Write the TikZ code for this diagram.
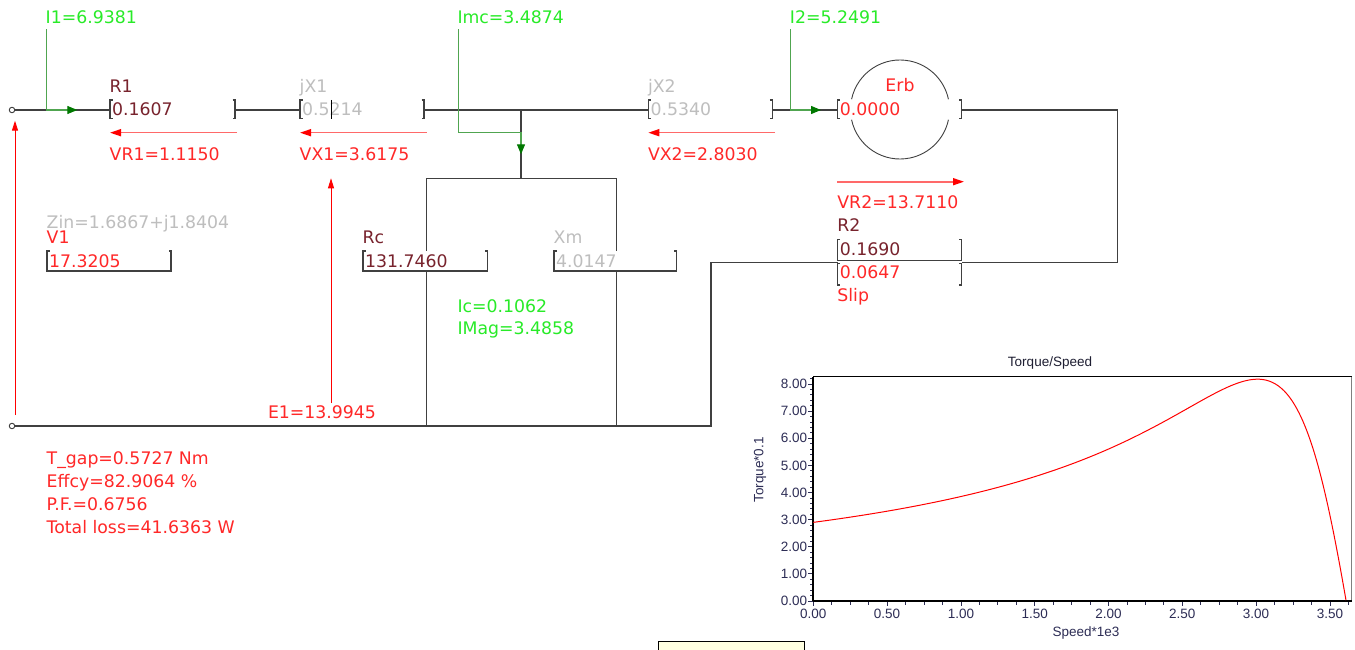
\documentclass[tikz,border=0pt]{standalone}
\usepackage{fontspec}
\setmainfont{DejaVu Sans}
\newfontfamily\chartfont{Liberation Sans}
\usepackage{xcolor}
\definecolor{wirec}{RGB}{64,64,64}
\definecolor{grn}{RGB}{40,235,40}
\definecolor{gline}{RGB}{80,165,80}
\definecolor{garr}{RGB}{0,120,0}
\definecolor{rd}{RGB}{255,40,40}
\definecolor{vline}{RGB}{255,105,105}
\definecolor{mrn}{RGB}{120,35,45}
\definecolor{lgray}{RGB}{190,190,190}
\definecolor{tickc}{RGB}{45,45,85}
\definecolor{tipc}{RGB}{255,255,225}
\usetikzlibrary{arrows.meta}

\begin{document}
\begin{tikzpicture}[x=1pt, y=-1pt,
    wire/.style={draw=wirec, line width=1.2pt},
    term/.style={circle, draw=wirec, line width=0.9pt, inner sep=0pt, minimum size=5.5pt},
    lbl/.style={anchor=base west, inner sep=0pt, font=\fontsize{17.3}{20}\selectfont},
    gcur/.style={draw=gline, line width=1.2pt, -{Triangle[length=10pt, width=8pt, color=garr, fill=garr]}},
    vdrop/.style={draw=vline, line width=1.6pt, -{Triangle[length=11pt, width=7pt, color=red, fill=red]}},
    vsrc/.style={draw=red, line width=0.9pt, -{Triangle[length=10pt, width=6pt, color=red, fill=red]}},
    tick/.style={draw=tickc, line width=0.8pt},
    axlbl/.style={inner sep=0pt, text=tickc, font=\chartfont\fontsize{13.5}{15}\selectfont}]
    \useasboundingbox[fill=white] (0,0) rectangle (1355,650);

    % Terminals and junctions
    \node[term] (tin) at (12,110) {};
    \node[term] (tout) at (12,426) {};
    \coordinate (r1l) at (110,110);      \coordinate (r1r) at (235,110);
    \coordinate (x1l) at (300,110);      \coordinate (x1r) at (424,110);
    \coordinate (jm) at (521,110);       \coordinate (jmb) at (521,178.3);
    \coordinate (x2l) at (648.3,110);    \coordinate (x2r) at (772.3,110);
    \coordinate (erl) at (837.7,110);    \coordinate (err) at (961.7,110);
    \coordinate (cnr) at (1117.7,110);   \coordinate (cnr2) at (1117.7,262.3);
    \coordinate (r2r) at (961.7,262.3);  \coordinate (r2l) at (837.7,262.3);
    \coordinate (cnl) at (711,262.3);    \coordinate (cnl2) at (711,426);
    \coordinate (rct) at (426.5,178.3);  \coordinate (rcb) at (426.5,426);
    \coordinate (xmt) at (616.3,178.3);  \coordinate (xmb) at (616.3,426);

    % Main wires
    \draw[wire] (tin) -- (r1l);
    \draw[wire] (r1r) -- (x1l);
    \draw[wire] (x1r) -- (x2l);
    \draw[wire] (x2r) -- (erl);
    \draw[wire] (err) -- (cnr) -- (cnr2) -- (r2r);
    \draw[wire] (r2l) -- (cnl) -- (cnl2) -- (tout);

    % Shunt branch
    \draw[wire] (jm) -- (jmb);
    \draw[wire] (rcb) -- (rct) -- (xmt) -- (xmb);

    % Brackets of the series elements
    \foreach \xl/\xr/\yt/\yb in {110/235/100/118.7, 300/424/100/118.7, 648.3/772.3/100/118.7,
                                 837.7/961.7/100/118.7, 837.7/961.7/263.3/285}
    \draw[wire] (\xl+2.5,\yt) -- (\xl,\yt) -- (\xl,\yb) -- (\xl+2.5,\yb)
                (\xr-2.5,\yt) -- (\xr,\yt) -- (\xr,\yb) -- (\xr-2.5,\yb);

    % Open boxes (V1, Rc, Xm, R2)
    \foreach \xl/\xr/\yt/\yb in {47/171/251/271, 363/487.3/251/271, 554/676.7/251/271,
                                 837.7/961.7/239.3/260.7}
    \draw[wire, fill=white] (\xl+2.5,\yt) -- (\xl,\yt) -- (\xl,\yb) -- (\xr,\yb) -- (\xr,\yt) -- (\xr-2.5,\yt);

    % Erb circle, open at both sides
    \draw[wirec, line width=0.9pt] (900,109.5) +(168:49.5) arc[start angle=168, end angle=12, radius=49.5];
    \draw[wirec, line width=0.9pt] (900,109.5) +(192:49.5) arc[start angle=192, end angle=348, radius=49.5];

    % Currents
    \coordinate (i1s) at (46.7,29.3);   \coordinate (i1e) at (77.3,110);
    \coordinate (imcs) at (458.3,29.3); \coordinate (imce) at (521,154.3);
    \coordinate (i2s) at (790.7,29.3);  \coordinate (i2e) at (821,110);
    \draw[gcur] (i1s) |- (i1e);
    \draw[gcur] (imcs) -- (458.3,132.7) -| (imce);
    \draw[gcur] (i2s) |- (i2e);

    % Voltage drops
    \coordinate (vr1s) at (237,132.7);   \coordinate (vr1e) at (110,132.7);
    \coordinate (vx1s) at (426.7,132.7); \coordinate (vx1e) at (300,132.7);
    \coordinate (vx2s) at (775,132.7);   \coordinate (vx2e) at (648.3,132.7);
    \coordinate (vr2s) at (837,181.7);   \coordinate (vr2e) at (964,181.7);
    \draw[vdrop] (vr1s) -- (vr1e);
    \draw[vdrop] (vx1s) -- (vx1e);
    \draw[vdrop] (vx2s) -- (vx2e);
    \draw[vdrop] (vr2s) -- (vr2e);
    \coordinate (v1s) at (15,415);  \coordinate (v1e) at (15,120.7);
    \coordinate (e1s) at (331,403); \coordinate (e1e) at (331,178.3);
    \draw[vsrc] (v1s) -- (v1e);
    \draw[vsrc] (e1s) -- (e1e);

    % Labels on top
    \node[lbl, text=grn] (i1) at (45.5,23.5) {I1=6.9381};
    \node[lbl, text=grn] (imc) at (457.3,23.5) {Imc=3.4874};
    \node[lbl, text=grn] (i2) at (789.7,23.5) {I2=5.2491};

    % Series elements
    \node[lbl, text=mrn] (r1) at (109.5,92.5) {R1};
    \node[lbl, text=mrn] (r1v) at (112,116) {0.1607};
    \node[lbl, text=lgray] (x1) at (299.5,92.5) {jX1};
    \node[lbl, text=lgray] (x1v) at (302,116) {0.5214};
    \draw[black, line width=1pt] (331.7,100) -- (331.7,118.7);
    \node[lbl, text=lgray] (x2) at (647.8,92.5) {jX2};
    \node[lbl, text=lgray] (x2v) at (650.3,116) {0.5340};
    \node[lbl, anchor=base, text=rd] (erb) at (900,91.7) {Erb};
    \node[lbl, text=rd] (erbv) at (839.7,116) {0.0000};

    % Voltage drop labels
    \node[lbl, text=rd] (vr1) at (109.5,160.7) {VR1=1.1150};
    \node[lbl, text=rd] (vx1) at (299.5,160.7) {VX1=3.6175};
    \node[lbl, text=rd] (vx2) at (647.8,160.7) {VX2=2.8030};
    \node[lbl, text=rd] (vr2) at (837.2,208.3) {VR2=13.7110};

    % Rotor branch
    \node[lbl, text=mrn] (r2) at (837.2,231.7) {R2};
    \node[lbl, text=mrn] (r2v) at (839.7,255) {0.1690};
    \node[lbl, text=rd] (slpv) at (839.7,278.3) {0.0647};
    \node[lbl, text=rd] (slp) at (837.2,301) {Slip};

    % Source and shunt branch
    \node[lbl, text=lgray] (zin) at (46.5,228) {Zin=1.6867+j1.8404};
    \node[lbl, text=rd] (v1) at (46.5,243.5) {V1};
    \node[lbl, text=rd] (v1v) at (49,267) {17.3205};
    \node[lbl, text=mrn] (rc) at (362.5,243.5) {Rc};
    \node[lbl, text=mrn] (rcv) at (365,267) {131.7460};
    \node[lbl, text=lgray] (xm) at (553.5,243.5) {Xm};
    \node[lbl, text=lgray] (xmv) at (556,267.5) {4.0147};
    \node[lbl, text=grn] (ic) at (457.3,312.3) {Ic=0.1062};
    \node[lbl, text=grn] (imag) at (457.3,334.3) {IMag=3.4858};
    \node[lbl, anchor=base, text=rd] (e1) at (322,418) {E1=13.9945};

    % Results
    \node[lbl, text=rd] (tgap) at (46.5,464.5) {T\textunderscore gap=0.5727 Nm};
    \node[lbl, text=rd] (eff) at (46.5,487.3) {Effcy=82.9064 \%};
    \node[lbl, text=rd] (pf) at (46.5,510.5) {P.F.=0.6756};
    \node[lbl, text=rd] (loss) at (46.5,533) {Total loss=41.6363 W};

    % Torque/speed chart
    \node[axlbl, text={rgb,255:red,30;green,30;blue,50}] (title) at (1050,363) {Torque/Speed};
    \node[axlbl] (xlab) at (1086,633) {Speed*1e3};
    \node[axlbl, rotate=90] (ylab) at (760,470) {Torque*0.1};
    \begin{scope}[shift={(813.3,601)}, x=147.6pt, y=27.12pt,
        declare function={slp(\n)=(3.61-\n)/3.61;
            trq(\n)=18.79*slp(\n)/(6.017*slp(\n)*slp(\n)+0.2974*slp(\n)+0.1662);}]
        % ticks
        \foreach \t in {0,0.2,...,8.2}
        \draw[tick] (0,\t) -- ++(-3pt,0);
        \foreach \t in {0,...,8}{
            \draw[tick] (0,\t) -- ++(-5pt,0);
            \node[axlbl, anchor=east] (ty\t) at ([xshift=-6pt]0,\t) {\t.00};
        }
        \foreach \t in {0,0.125,...,3.625}
        \draw[tick] (\t,0) -- ++(0,-3.5pt);
        \foreach \v/\s [count=\k] in {0/0.00,0.5/0.50,1/1.00,1.5/1.50,2/2.00,2.5/2.50,3/3.00,3.5/3.50}{
            \draw[tick] (\v,0) -- ++(0,-5pt);
            \node[axlbl, anchor=north] (tx\k) at ([yshift=-8pt]\v,0) {\s};
        }
        % frame
        \draw[black, line width=0.8pt] (0,8.27) -- (3.648,8.27);
        \draw[gray, line width=0.8pt] (3.648,8.27) -- (3.648,0);
        \draw[black, line width=2pt] (0,0) -- (0,8.27);
        \draw[black, line width=2.6pt] (0,0) -- (3.648,0);
        % curve
        \draw[red, line width=1pt] plot[domain=0:3.61, samples=181, smooth] (\x,{trq(\x)});
    \end{scope}

    % Tooltip at the bottom edge
    \draw[black, line width=1pt, fill=tipc] (658,650) -- (658,641) -- (804,641) -- (804,650);
\end{tikzpicture}
\end{document}
